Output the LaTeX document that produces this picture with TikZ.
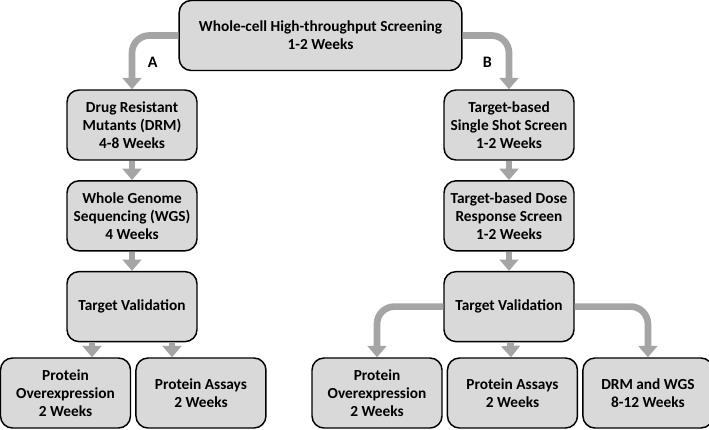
\documentclass[tikz,border=0pt]{standalone}
\usepackage{fontspec}
\setmainfont{Carlito}
\usepackage{tikz}
\usetikzlibrary{arrows.meta, positioning}
\definecolor{boxgray}{HTML}{D9D9D9}
\definecolor{arrowgray}{HTML}{A5A5A5}
\tikzstyle{stage} = [rectangle, rounded corners=9pt, minimum width=97.5pt, minimum height=52.5pt, text centered, align=center, draw=black, line width=1.1pt, fill=boxgray, font=\bfseries\fontsize{11.5}{13.5}\selectfont]
\tikzstyle{arrow} = [draw=arrowgray, line width=5pt, -{Triangle[width=14pt,length=8.5pt]}]
\tikzstyle{curved} = [rounded corners=13pt]
\tikzstyle{branch} = [font=\bfseries\fontsize{12}{14}\selectfont]

\begin{document}
\begin{tikzpicture}[x=0.75pt, y=-0.75pt, node distance=14.5pt]
    \useasboundingbox (0,0) rectangle (709,429);
    \node[stage, minimum width=212pt] (hts) at (320.5,35.5) {Whole-cell High-throughput Screening\\1-2 Weeks};
    % route A
    \node[stage] (drm) at (132,125) {Drug Resistant\\Mutants (DRM)\\4-8 Weeks};
    \node[stage, below=of drm] (wgs) {Whole Genome\\Sequencing (WGS)\\4 Weeks};
    \node[stage, below=of wgs] (tvA) {Target Validation};
    \node[stage] (poA) at (65.5,393) {Protein\\Overexpression\\2 Weeks};
    \node[stage, right=3pt of poA] (paA) {Protein Assays\\2 Weeks};
    % route B
    \node[stage] (single) at (509,125) {Target-based\\Single Shot Screen\\1-2 Weeks};
    \node[stage, below=of single] (dose) {Target-based Dose\\Response Screen\\1-2 Weeks};
    \node[stage, below=of dose] (tvB) {Target Validation};
    \node[stage] (poB) at (377,393) {Protein\\Overexpression\\2 Weeks};
    \node[stage, right=3pt of poB] (paB) {Protein Assays\\2 Weeks};
    \node[stage, right=3pt of paB] (dwB) {DRM and WGS\\8-12 Weeks};

    \draw[arrow, curved] (hts.west) -| node[branch, pos=0.75, right=6pt] {A} (drm.north);
    \draw[arrow, curved] (hts.east) -| node[branch, pos=0.75, left=7pt] {B} (single.north);
    \draw[arrow] (drm) -- (wgs);
    \draw[arrow] (wgs) -- (tvA);
    \draw[arrow] ([xshift=-30pt]tvA.south) -- ([xshift=-30pt]tvA.south |- poA.north);
    \draw[arrow] ([xshift=30pt]tvA.south) -- ([xshift=30pt]tvA.south |- paA.north);
    \draw[arrow] (single) -- (dose);
    \draw[arrow] (dose) -- (tvB);
    \draw[arrow] (tvB) -- (paB);
    \draw[arrow, curved] (tvB.west) -| (poB.north);
    \draw[arrow, curved] (tvB.east) -| (dwB.north);
\end{tikzpicture}
\end{document}
